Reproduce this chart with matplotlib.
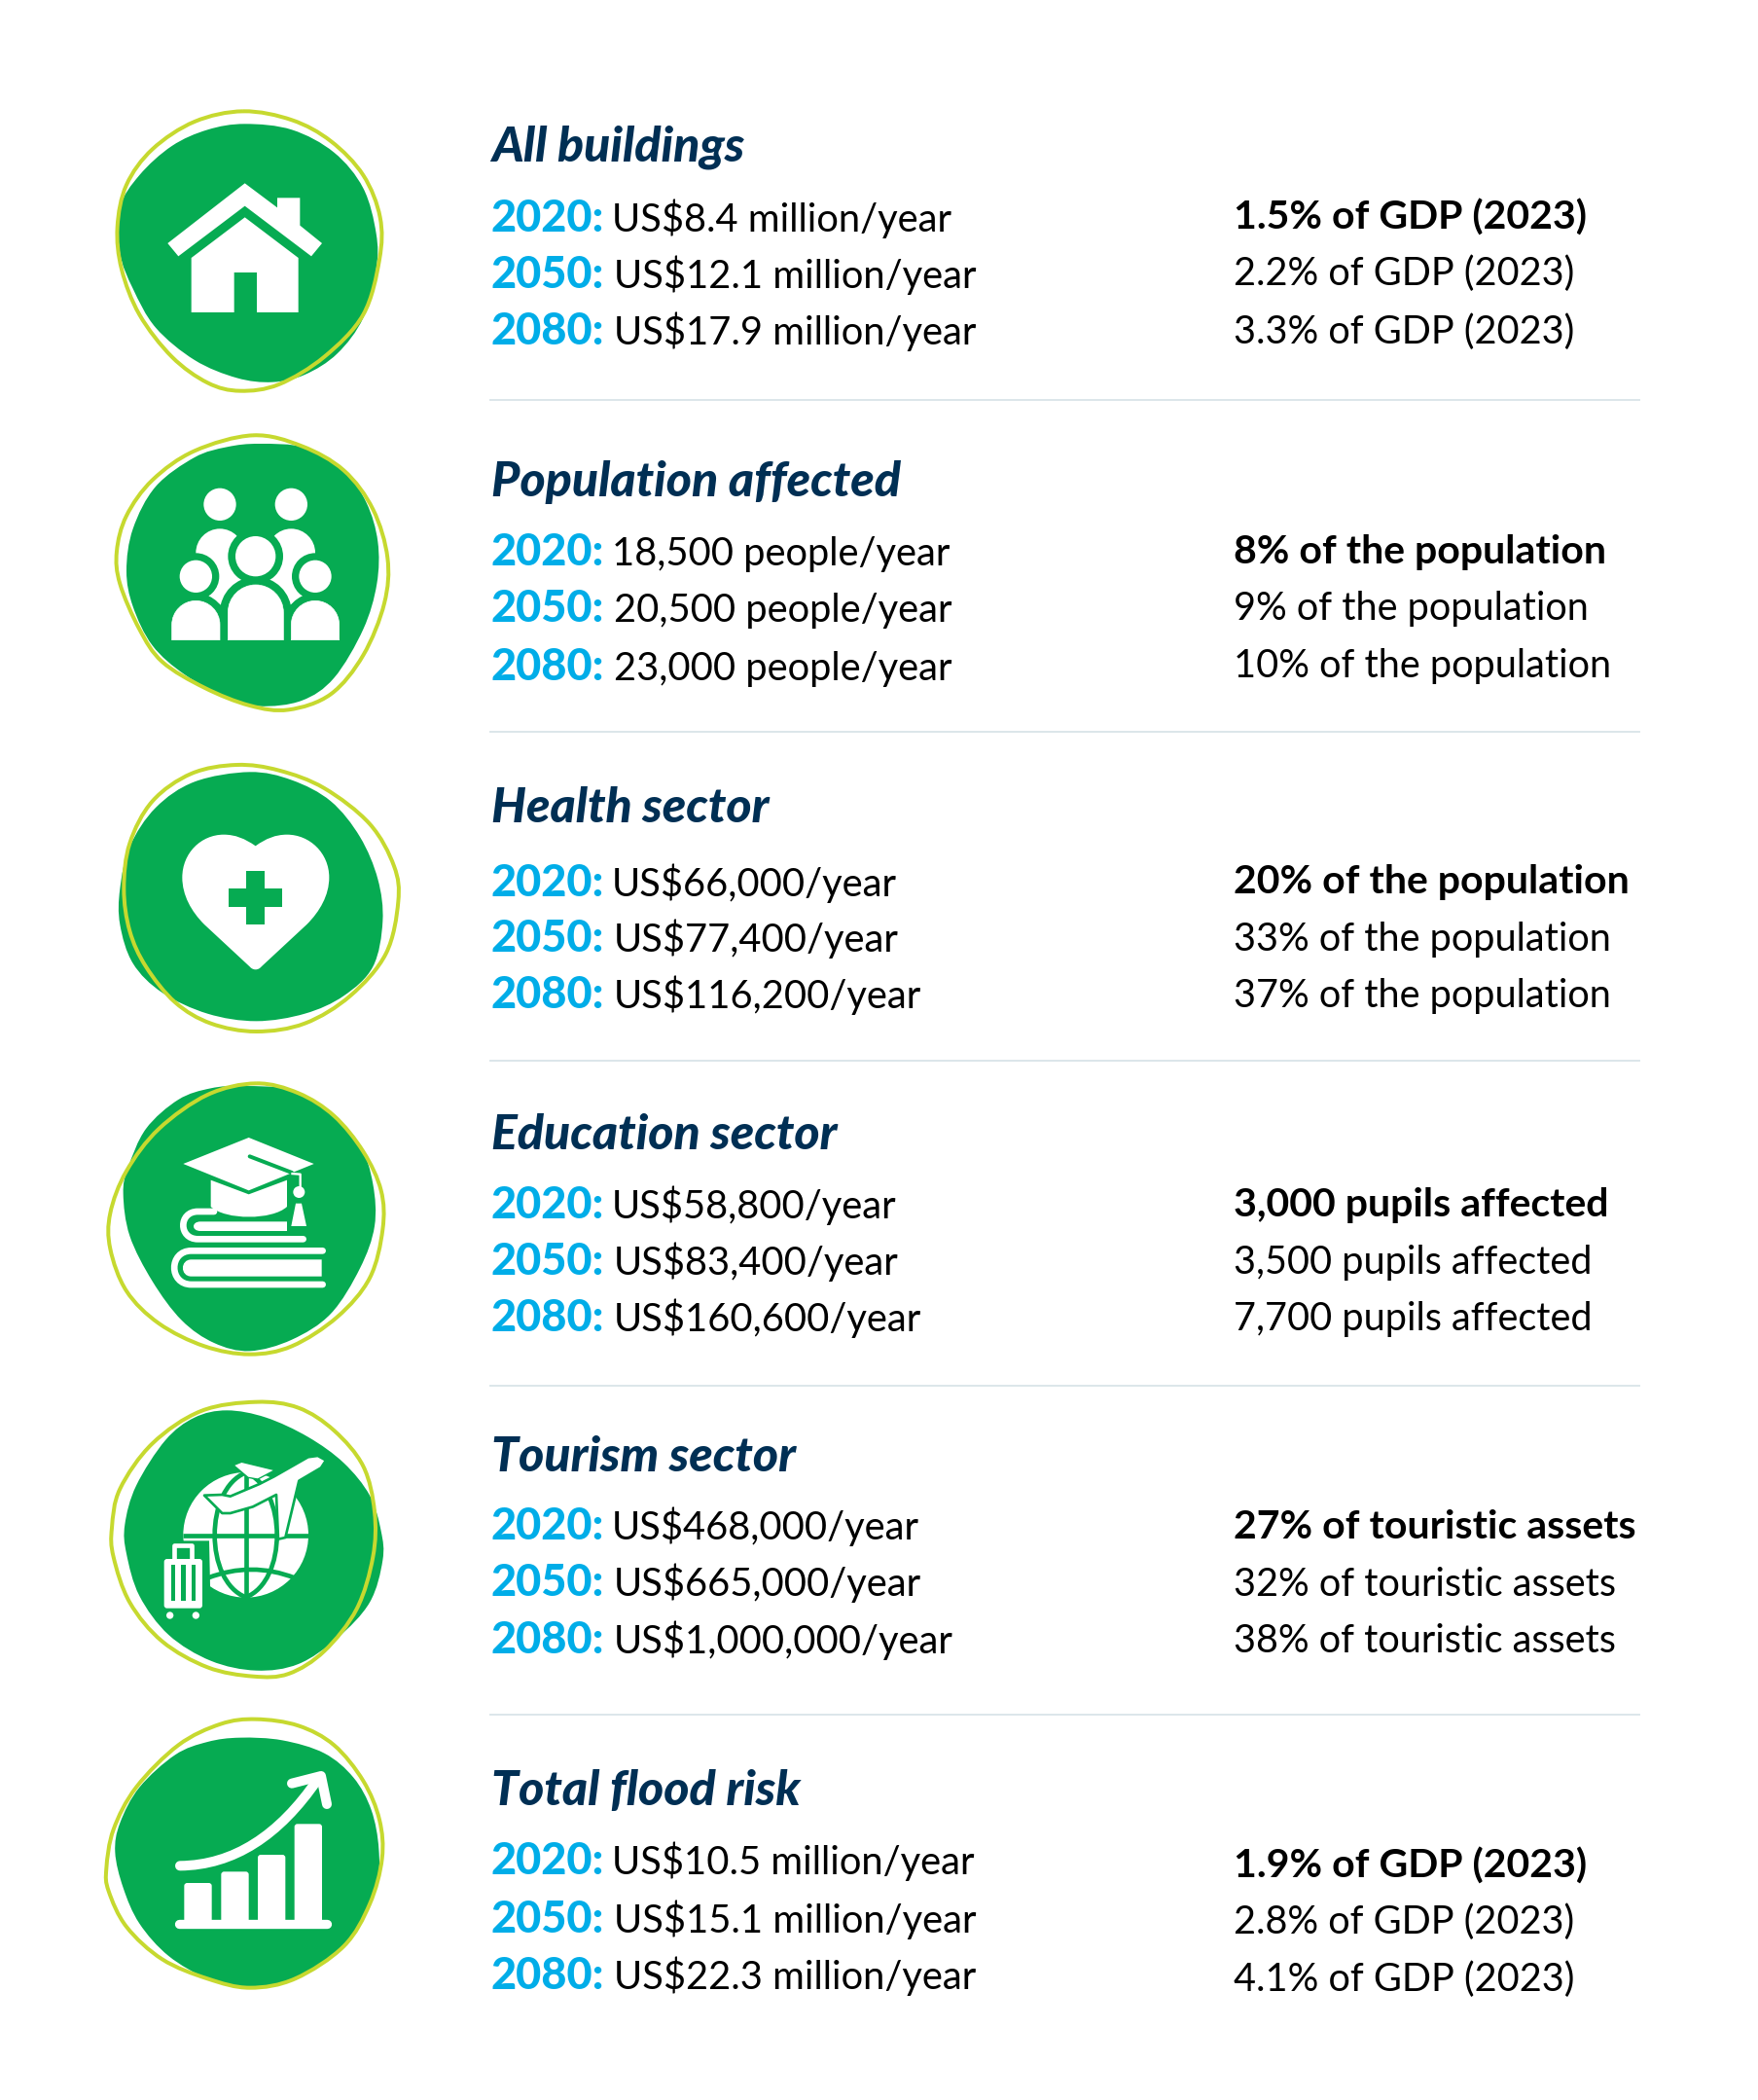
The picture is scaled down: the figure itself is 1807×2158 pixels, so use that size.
import numpy as np
import matplotlib
matplotlib.use('Agg')
import matplotlib.pyplot as plt
from matplotlib.path import Path
from matplotlib.patches import PathPatch, Circle, Polygon, Rectangle, FancyBboxPatch

# ================== DATA ==================
categories = ['All buildings', 'Population affected', 'Health sector',
              'Education sector', 'Tourism sector', 'Total flood risk']
years = ['2020:', '2050:', '2080:']
values_2020 = ['US$8.4 million/year', '18,500 people/year', 'US$66,000/year',
               'US$58,800/year', 'US$468,000/year', 'US$10.5 million/year']
values_2050 = ['US$12.1 million/year', '20,500 people/year', 'US$77,400/year',
               'US$83,400/year', 'US$665,000/year', 'US$15.1 million/year']
values_2080 = ['US$17.9 million/year', '23,000 people/year', 'US$116,200/year',
               'US$160,600/year', 'US$1,000,000/year', 'US$22.3 million/year']
share_2020 = ['1.5% of GDP (2023)', '8% of the population', '20% of the population',
              '3,000 pupils affected', '27% of touristic assets', '1.9% of GDP (2023)']
share_2050 = ['2.2% of GDP (2023)', '9% of the population', '33% of the population',
              '3,500 pupils affected', '32% of touristic assets', '2.8% of GDP (2023)']
share_2080 = ['3.3% of GDP (2023)', '10% of the population', '37% of the population',
              '7,700 pupils affected', '38% of touristic assets', '4.1% of GDP (2023)']

# ================== LAYOUT (pixels) ==================
S = 1.378
title_y = [120, 370, 613, 857, 1097.5, 1346]
left_y = [[173, 215, 257], [421.5, 464, 507], [668, 710, 752],
          [908.5, 950.5, 992.5], [1148, 1190, 1233], [1398, 1441, 1483]]
right_y = [[171, 213, 256], [420, 462, 505], [666, 709, 751],
           [907, 950, 992], [1147, 1190, 1232], [1400, 1442, 1485]]
rule_y = [298, 546, 791, 1033.5, 1278.5]
value_x = [456.5, 458, 458]

GREEN = '#06AB52'
LIME = '#C6D92F'
NAVY = '#002F54'
CYAN = '#00ADE8'
RULE = '#DCE6EA'
FONT = 'Lato'

fig = plt.figure(figsize=(18.08, 21.58), dpi=100)
ax = fig.add_axes([0, 0, 1, 1])
ax.set_xlim(0, 1808)
ax.set_ylim(2158, 0)
ax.axis('off')


# ================== HELPERS ==================
def blob_path(pts):
    # closed Catmull-Rom through the points
    pts = np.array(pts, float)
    n = len(pts)
    verts = [pts[0]]
    codes = [Path.MOVETO]
    for i in range(n):
        p0, p1, p2, p3 = pts[i - 1], pts[i], pts[(i + 1) % n], pts[(i + 2) % n]
        verts += [p1 + (p2 - p0) / 6, p2 - (p3 - p1) / 6, p2]
        codes += [Path.CURVE4] * 3
    return Path(verts, codes)


def to_px(origin, pts):
    return np.array(pts, float) / 3 + np.array(origin)


def lw(z):
    # stroke width given in crop units (3 per pixel)
    return z * 0.24


def blob(origin, fill, line):
    ax.add_patch(PathPatch(blob_path(to_px(origin, fill)), fc=GREEN, ec='none', zorder=1))
    ax.add_patch(PathPatch(blob_path(to_px(origin, line)), fc='none', ec=LIME, lw=lw(12), zorder=2))


def poly(origin, pts, color='white', z=3, **kw):
    ax.add_patch(Polygon(to_px(origin, pts), closed=True, fc=color, ec=kw.get('ec', 'none'),
                         lw=kw.get('lw', 0), joinstyle='round', zorder=z))


def circ(origin, c, r, color='white', z=3):
    ax.add_patch(Circle(to_px(origin, [c])[0], r / 3, fc=color, ec='none', zorder=z))


def curve(origin, verts, codes, fc='white', ec='none', w=0, z=3, cap='round'):
    ax.add_patch(PathPatch(Path(to_px(origin, verts), codes), fc=fc, ec=ec, lw=lw(w),
                           capstyle=cap, joinstyle='round', zorder=z))


M, L, C, X = Path.MOVETO, Path.LINETO, Path.CURVE4, Path.CLOSEPOLY


def dome(origin, x0, x1, top, bottom, fc='white', ec='none', w=0, z=3):
    xc = (x0 + x1) / 2
    r = (x1 - x0) / 2
    k = 0.55 * r
    v = [(x0, bottom), (x0, top + r), (x0, top + r - k), (xc - k, top), (xc, top),
         (xc + k, top), (x1, top + r - k), (x1, top + r), (x1, bottom), (x0, bottom)]
    c = [M, L, C, C, C, C, C, C, L, X]
    curve(origin, v, c, fc=fc, ec=ec, w=w, z=z)


# ================== ICONS ==================
# house
o = (100, 100)
blob(o, [(455, 82), (600, 100), (730, 170), (820, 280), (860, 420), (860, 530), (820, 680), (740, 790),
         (640, 855), (540, 878), (430, 865), (300, 810), (180, 710), (110, 590), (70, 480), (70, 340),
         (130, 240), (230, 150), (340, 100)],
     [(450, 43), (600, 70), (720, 135), (820, 240), (872, 370), (870, 500), (820, 670), (700, 800),
      (560, 885), (440, 905), (340, 880), (230, 800), (130, 670), (75, 530), (62, 400), (90, 270),
      (170, 160), (300, 75)])
poly(o, [(455, 265), (555, 340), (555, 310), (625, 310), (625, 395), (693, 450), (660, 490),
         (455, 335), (250, 490), (217, 450)])
poly(o, [(455, 370), (620, 495), (620, 663), (492, 663), (492, 540), (422, 540), (422, 663),
         (290, 663), (290, 495)])

# people
o = (100, 440)
blob(o, [(500, 48), (640, 60), (760, 130), (830, 230), (865, 350), (862, 480), (820, 620), (730, 770),
         (630, 840), (500, 857), (400, 830), (270, 760), (170, 670), (110, 550), (90, 440), (110, 310),
         (180, 180), (300, 90), (400, 58)],
     [(480, 22), (630, 55), (760, 130), (850, 250), (895, 400), (885, 540), (820, 700), (720, 820),
      (590, 868), (470, 855), (330, 800), (200, 720), (130, 620), (70, 480), (60, 380), (90, 270),
      (170, 160), (300, 70)])
circ(o, (378, 235), 50)
circ(o, (598, 235), 50)
dome(o, 304, 452, 310, 470)
dome(o, 524, 672, 310, 470)
poly(o, [(320, 430), (480, 430), (380, 545), (340, 515)])
poly(o, [(656, 430), (496, 430), (596, 545), (636, 515)])
circ(o, (488, 395), 85, GREEN, 4)
circ(o, (304, 457), 72, GREEN, 4)
circ(o, (672, 457), 72, GREEN, 4)
dome(o, 403, 574, 483, 653, fc=GREEN, ec=GREEN, w=50, z=4)
dome(o, 230, 378, 532, 653, fc=GREEN, ec=GREEN, w=46, z=4)
dome(o, 598, 746, 532, 653, fc=GREEN, ec=GREEN, w=46, z=4)
circ(o, (488, 395), 62, z=5)
circ(o, (304, 457), 50, z=5)
circ(o, (672, 457), 50, z=5)
dome(o, 403, 574, 483, 653, z=5, ec='white', w=2)
dome(o, 230, 378, 532, 653, z=5, ec='white', w=2)
dome(o, 598, 746, 532, 653, z=5, ec='white', w=2)

# heart
o = (100, 780)
blob(o, [(470, 40), (600, 65), (720, 130), (810, 240), (865, 370), (880, 500), (850, 640), (760, 730),
         (640, 785), (490, 808), (340, 785), (200, 720), (110, 630), (70, 510), (70, 400), (100, 270),
         (180, 150), (300, 70)],
     [(430, 18), (560, 35), (700, 90), (840, 200), (915, 330), (928, 440), (890, 600), (780, 730),
      (640, 815), (490, 840), (350, 815), (240, 750), (150, 640), (100, 530), (82, 400), (100, 260),
      (170, 130), (290, 45)])
curve(o, [(488, 268), (455, 245), (425, 233), (390, 233), (320, 233), (262, 290), (262, 365),
          (262, 420), (290, 470), (330, 510), (470, 640), (480, 652), (496, 652), (506, 640),
          (646, 510), (686, 470), (715, 420), (715, 365), (715, 290), (655, 233), (585, 233),
          (550, 233), (520, 245), (488, 268), (488, 268)],
      [M, C, C, C, C, C, C, C, C, C, L, C, C, C, L, C, C, C, C, C, C, C, C, C, X])
poly(o, [(460, 345), (515, 345), (515, 400), (570, 400), (570, 455), (515, 455), (515, 510),
         (460, 510), (460, 455), (405, 455), (405, 400), (460, 400)], GREEN, 4)

# graduation cap and books
o = (100, 1110)
blob(o, [(450, 18), (600, 30), (720, 100), (810, 200), (850, 320), (855, 450), (810, 580), (720, 720),
         (600, 800), (470, 835), (360, 810), (260, 740), (170, 620), (100, 480), (80, 350), (95, 270),
         (150, 150), (250, 60), (350, 25)],
     [(490, 10), (620, 40), (730, 110), (820, 220), (875, 340), (880, 460), (840, 610), (740, 730),
      (600, 820), (470, 845), (330, 820), (190, 750), (90, 650), (40, 520), (40, 410), (90, 280),
      (190, 150), (340, 45)])
poly(o, [(467, 177), (668, 258), (467, 340), (265, 258)])
curve(o, [(470, 235), (600, 285)], [M, L], fc='none', ec=GREEN, w=12, z=4)
curve(o, [(598, 288), (626, 290), (626, 330)], [M, L, L], fc='none', ec='white', w=7, z=4, cap='butt')
curve(o, [(350, 308), (467, 352), (585, 308), (585, 390), (540, 432), (395, 432), (350, 390), (350, 308)],
      [M, L, L, L, C, C, C, X])
circ(o, (622, 345), 18)
poly(o, [(612, 380), (630, 380), (645, 450), (598, 450)])
curve(o, [(635, 490), (310, 490), (250, 490), (250, 405), (310, 405), (360, 405)], [M, L, C, C, C, L],
      fc='none', ec='white', w=20)
curve(o, [(585, 436), (318, 436), (290, 436), (290, 465), (318, 465), (585, 465), (585, 436)],
      [M, L, C, C, C, L, X])
curve(o, [(695, 526), (290, 526), (220, 526), (220, 630), (290, 630), (695, 630)], [M, L, C, C, C, L],
      fc='none', ec='white', w=20)
curve(o, [(692, 553), (290, 553), (255, 553), (255, 605), (290, 605), (692, 605), (692, 553)],
      [M, L, C, C, C, L, X])

# globe, plane and suitcase
o = (100, 1440)
blob(o, [(400, 28), (520, 50), (650, 110), (760, 190), (840, 290), (875, 400), (880, 490), (840, 620),
         (740, 730), (620, 810), (490, 830), (350, 800), (220, 720), (130, 600), (90, 470), (85, 380),
         (120, 260), (210, 120), (300, 50)],
     [(490, 2), (620, 20), (730, 90), (820, 200), (855, 340), (850, 480), (800, 640), (700, 770),
      (590, 840), (480, 848), (340, 820), (200, 740), (100, 620), (50, 480), (45, 390), (70, 270),
      (170, 130), (320, 30)])
circ(o, (458, 412), 193)
curve(o, [(458, 220), (458, 604)], [M, L], fc='none', ec=GREEN, w=14, z=4, cap='butt')
curve(o, [(265, 415), (651, 415)], [M, L], fc='none', ec=GREEN, w=14, z=4, cap='butt')
curve(o, [(458, 220), (330, 270), (330, 555), (458, 604), (586, 555), (586, 270), (458, 220)],
      [M, C, C, C, C, C, C], fc='none', ec=GREEN, w=14, z=4)
curve(o, [(340, 545), (430, 510), (520, 510), (610, 545)], [M, C, C, C], fc='none', ec=GREEN, w=14, z=4)
poly(o, [(195, 430), (345, 430), (350, 660), (195, 660)], GREEN, 4)
curve(o, [(238, 490), (238, 445), (290, 445), (290, 490)], [M, L, L, L], fc='none', ec='white', w=14, z=5)
ax.add_patch(FancyBboxPatch(to_px(o, [(206, 486)])[0], 118 / 3, 152 / 3, boxstyle='round,pad=0,rounding_size=3',
                            fc='white', ec='none', zorder=5))
for sx, sw in zip([228, 258, 292], [12, 14, 12]):
    ax.add_patch(Rectangle(to_px(o, [(sx, 505)])[0], sw / 3, 110 / 3, fc=GREEN, ec='none', zorder=6))
circ(o, (224, 660), 11, z=5)
circ(o, (304, 660), 11, z=5)
poly(o, [(420, 197), (445, 187), (548, 212), (495, 240), (465, 235)], z=5, ec=GREEN, lw=lw(4))
poly(o, [(705, 182), (680, 168), (650, 172), (545, 232), (500, 255), (410, 293), (385, 288), (330, 290),
         (385, 345), (410, 345), (480, 325), (552, 288), (558, 425), (580, 420), (622, 245), (690, 205)],
     z=6, ec=GREEN, lw=lw(8))

# rising bars
o = (100, 1770)
blob(o, [(440, 47), (570, 55), (700, 95), (790, 170), (845, 270), (868, 390), (860, 500), (790, 650),
         (680, 750), (550, 810), (450, 815), (340, 790), (220, 720), (130, 620), (80, 510), (55, 400),
         (70, 310), (130, 200), (240, 100), (340, 60)],
     [(490, -10), (620, 10), (730, 70), (820, 180), (870, 300), (878, 420), (840, 560), (760, 690),
      (610, 790), (470, 818), (340, 790), (200, 730), (90, 630), (35, 520), (28, 450), (50, 330),
      (120, 200), (250, 70), (380, 5)])
for bx, bt in zip([268, 382, 495, 608], [495, 460, 408, 313]):
    ax.add_patch(FancyBboxPatch(to_px(o, [(bx, bt)])[0], 85 / 3, (625 - bt) / 3,
                                boxstyle='round,pad=0,rounding_size=3', fc='white', ec='none', zorder=3))
curve(o, [(253, 621), (708, 621)], [M, L], fc='none', ec='white', w=28)
curve(o, [(255, 442), (420, 440), (560, 350), (680, 175)], [M, C, C, C], fc='none', ec='white', w=30)
curve(o, [(600, 188), (690, 165), (708, 252)], [M, L, L], fc='none', ec='white', w=30)

# ================== TEXT ==================
left_rows = [values_2020, values_2050, values_2080]
right_rows = [share_2020, share_2050, share_2080]
for i, cat in enumerate(categories):
    ax.text(505, title_y[i] * S, cat, fontsize=36, color=NAVY, family=FONT, weight='black', style='italic',
            va='baseline')
    for j in range(3):
        ax.text(505, left_y[i][j] * S, years[j], fontsize=32.5, color=CYAN, family=FONT, weight='black',
                va='baseline')
        ax.text(value_x[j] * S, left_y[i][j] * S, left_rows[j][i], fontsize=28.7, color='black', family=FONT,
                va='baseline')
        ax.text(920.5 * S, right_y[i][j] * S, right_rows[j][i], fontsize=29.5 if j == 0 else 28.5, color='black',
                family=FONT, weight='bold' if j == 0 else 'normal', va='baseline')

for y in rule_y:
    ax.plot([504, 1685], [y * S, y * S], color=RULE, lw=1.4, zorder=1)

fig.savefig('out.png', dpi=100, facecolor='white')
